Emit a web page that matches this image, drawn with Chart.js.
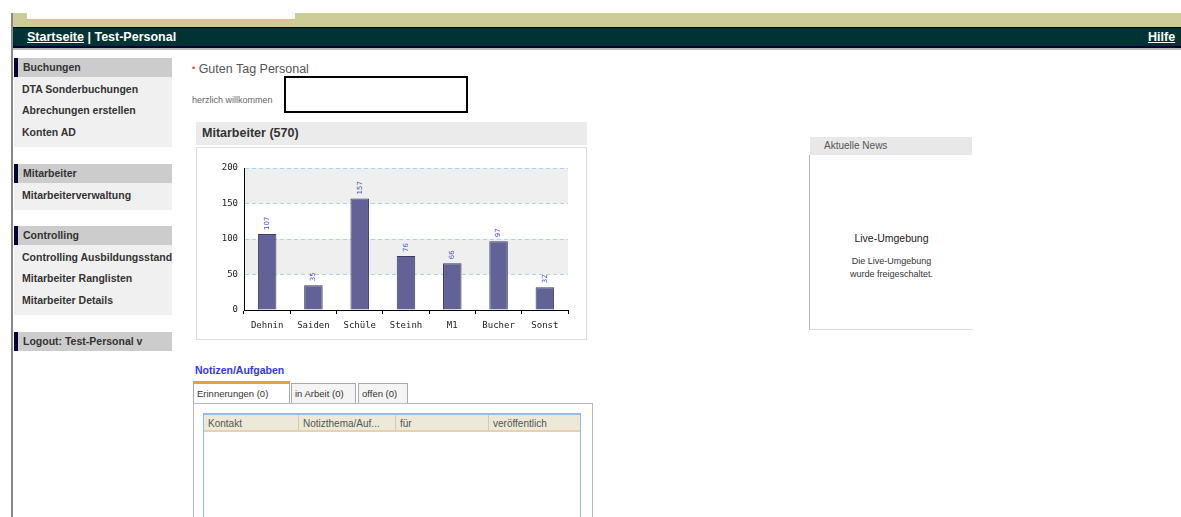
<!DOCTYPE html>
<html>
<head>
<meta charset="utf-8">
<script src="https://cdn.jsdelivr.net/npm/chart.js@4/dist/chart.umd.min.js"></script>
<style>
  body { margin: 0; width: 1181px; height: 517px; background: #fff; position: relative; overflow: hidden; font-family: "Liberation Sans", Arial, sans-serif; }
  .abs { position: absolute; }
  .topbar { left: 12px; top: 13px; width: 1169px; height: 14px; background: #cccc99; }
  .toptab { left: 27px; top: 13px; width: 268px; height: 6px; background: #fff; border-bottom: 2px solid #e8b890; }
  .leftline { left: 11px; top: 13px; width: 2px; height: 504px; background: #888; }
  .nav { left: 12px; top: 27px; width: 1169px; height: 18px; background: #003333; border-top: 1px solid #000033; border-bottom: 2px solid #000033; color: #fff; font-weight: bold; font-size: 12.5px; line-height: 18px; }
  .navshadow { left: 12px; top: 48px; width: 1169px; height: 2px; background: #bbb; }
  .nav span.u { text-decoration: underline; }
  .side { left: 14px; width: 158px; overflow: hidden; }
  .sh { background: #cccccc; border-left: 4px solid #000033; height: 19px; line-height: 19px; padding-left: 5px; font-size: 10.5px; font-weight: bold; color: #333; box-sizing: border-box; }
  .si { background: #f0f0f0; padding: 2px 0 4px 8px; box-sizing: border-box; }
  .si div { height: 21.3px; line-height: 21px; font-size: 10.5px; font-weight: bold; color: #333; white-space: nowrap; }
  .panelhead { left: 196px; top: 122px; width: 391px; height: 23px; background: #ebebeb; font-size: 12.5px; font-weight: bold; color: #333; line-height: 23px; box-sizing: border-box; padding-left: 6px; }
  .panelbody { left: 196px; top: 147px; width: 391px; height: 193px; border: 1px solid #ddd; box-sizing: border-box; background: #fff; }
  .tab { top: 383px; height: 20px; border: 1px solid #aaa; border-bottom: none; background: #f4f4f4; font-size: 9.5px; color: #333; line-height: 20px; padding: 0 3px; box-sizing: border-box; white-space: nowrap; }
  .grid { left: 203px; top: 413px; width: 378px; height: 110px; border: 1px solid #99bbdd; border-top: 2px solid #99bbee; box-sizing: border-box; }
  .ghead { position: absolute; top: 0; height: 17px; line-height: 17px; background: #ece9d8; border-bottom: 2px solid #e8d0b0; border-right: 1px solid #cfcbb8; font-size: 10px; color: #555; padding-left: 4px; box-sizing: border-box; white-space: nowrap; overflow: hidden; }
</style>
</head>
<body>
<div class="abs topbar"></div>
<div class="abs toptab"></div>
<div class="abs nav"><span style="margin-left:15px" class="u">Startseite</span> | Test-Personal<span class="u" style="position:absolute;left:1136px">Hilfe</span></div>
<div class="abs navshadow"></div>
<div class="abs leftline"></div>

<div class="abs side" style="top:58px">
  <div class="sh">Buchungen</div>
  <div class="si"><div>DTA Sonderbuchungen</div><div>Abrechungen erstellen</div><div>Konten AD</div></div>
</div>
<div class="abs side" style="top:164px">
  <div class="sh">Mitarbeiter</div>
  <div class="si"><div>Mitarbeiterverwaltung</div></div>
</div>
<div class="abs side" style="top:226px">
  <div class="sh">Controlling</div>
  <div class="si"><div>Controlling Ausbildungsstand</div><div>Mitarbeiter Ranglisten</div><div>Mitarbeiter Details</div></div>
</div>
<div class="abs side" style="top:332px">
  <div class="sh">Logout: Test-Personal v</div>
</div>

<div class="abs" style="left:192px;top:62px;font-size:12.5px;color:#555;"><span style="color:#e04040;font-size:9px;vertical-align:2px">&#8226;</span> Guten Tag Personal</div>
<div class="abs" style="left:192px;top:95px;font-size:9px;color:#666;">herzlich willkommen</div>
<div class="abs" style="left:284px;top:76px;width:184px;height:37px;border:2px solid #000;box-sizing:border-box;background:#fff;"></div>

<div class="abs panelhead">Mitarbeiter (570)</div>
<div class="abs panelbody"></div>
<div class="abs" style="left:196px;top:147px;width:391px;height:193px;"><canvas id="chart" width="391" height="193"></canvas></div>

<div class="abs" style="left:195px;top:364px;font-size:10.5px;font-weight:bold;color:#3333ff;">Notizen/Aufgaben</div>
<div class="abs tab" style="left:193px;width:97px;background:#fff;border-top:3px solid #f0a030;top:381px;height:23px;">Erinnerungen (0)</div>
<div class="abs tab" style="left:291px;width:65px;">in Arbeit (0)</div>
<div class="abs tab" style="left:358px;width:50px;">offen (0)</div>
<div class="abs" style="left:193px;top:403px;width:400px;height:120px;border:1px solid #bbb;box-sizing:border-box;"></div>
<div class="abs grid">
  <div class="ghead" style="left:0;width:95px;">Kontakt</div>
  <div class="ghead" style="left:95px;width:97px;">Notizthema/Auf...</div>
  <div class="ghead" style="left:192px;width:93px;">für</div>
  <div class="ghead" style="left:285px;width:91px;border-right:none;">veröffentlich</div>
</div>

<div class="abs" style="left:810px;top:137px;width:162px;height:18px;background:#e8e8e8;font-size:10px;color:#555;line-height:18px;padding-left:14px;box-sizing:border-box;">Aktuelle News</div>
<div class="abs" style="left:809px;top:155px;width:164px;height:175px;border-left:1px solid #bbb;border-bottom:1px solid #ddd;box-sizing:border-box;text-align:center;font-size:9px;color:#333;">
  <div style="margin-top:77px;font-size:10.5px;color:#222;">Live-Umgebung</div>
  <div style="margin-top:11px;line-height:13px;">Die Live-Umgebung<br>wurde freigeschaltet.</div>
</div>

<script>
// chart values
const categories = ["Dehnin", "Saiden", "Schüle", "Steinh", "M1", "Bucher", "Sonst"];
const employees = [107, 35, 157, 76, 66, 97, 32];
const yTicks = [0, 50, 100, 150, 200];

// alternating grey bands behind the grid
const bandPlugin = {
  id: "bands",
  beforeDraw(chart) {
    const { ctx, chartArea, scales } = chart;
    const y = scales.y;
    ctx.save();
    ctx.fillStyle = "#efefef";
    for (let i = 1; i < yTicks.length - 1; i += 2) {
      const top = y.getPixelForValue(yTicks[i + 1]);
      const bottom = y.getPixelForValue(yTicks[i]);
      ctx.fillRect(chartArea.left, top, chartArea.right - chartArea.left, bottom - top);
    }
    ctx.restore();
  },
};

// small rotated value labels above bars
const valuePlugin = {
  id: "values",
  afterDatasetsDraw(chart) {
    const { ctx } = chart;
    const meta = chart.getDatasetMeta(0);
    ctx.save();
    ctx.fillStyle = "#4455cc";
    ctx.font = "7px 'DejaVu Sans'";
    ctx.textAlign = "left";
    ctx.textBaseline = "middle";
    meta.data.forEach((bar, i) => {
      ctx.save();
      ctx.translate(bar.x, bar.y - 4);
      ctx.rotate(-Math.PI / 2);
      ctx.fillText(String(employees[i]), 0, 0);
      ctx.restore();
    });
    ctx.restore();
  },
};

new Chart(document.getElementById("chart"), {
  type: "bar",
  data: {
    labels: categories,
    datasets: [{
      data: employees,
      backgroundColor: "#626296",
      borderColor: "#3c3c5c",
      borderWidth: 1,
      barPercentage: 0.4,
      categoryPercentage: 1,
    }],
  },
  options: {
    responsive: false,
    animation: false,
    layout: { padding: { top: 21, right: 19, left: 0, bottom: 0 } },
    plugins: { legend: { display: false }, tooltip: { enabled: false } },
    scales: {
      x: {
        grid: { drawOnChartArea: false, color: "#000", tickLength: 4, offset: true },
        border: { color: "#000", width: 1 },
        ticks: { color: "#222", font: { family: "DejaVu Sans Mono", size: 9 }, padding: 6 },
        afterFit(scale) { scale.height = 30; },
      },
      y: {
        min: 0,
        max: 200,
        afterBuildTicks(scale) { scale.ticks = yTicks.map((v) => ({ value: v })); },
        grid: {
          color: (c) => (c.tick && c.tick.value > 0 ? "#a8d2f2" : "rgba(0,0,0,0)"),
          drawTicks: false,
        },
        border: { color: "#000", width: 1, dash: [4, 3] },
        ticks: { color: "#222", font: { family: "DejaVu Sans Mono", size: 9 }, padding: 6 },
        afterFit(scale) { scale.width = 48; },
      },
    },
  },
  plugins: [bandPlugin, valuePlugin],
});
</script>
</body>
</html>
